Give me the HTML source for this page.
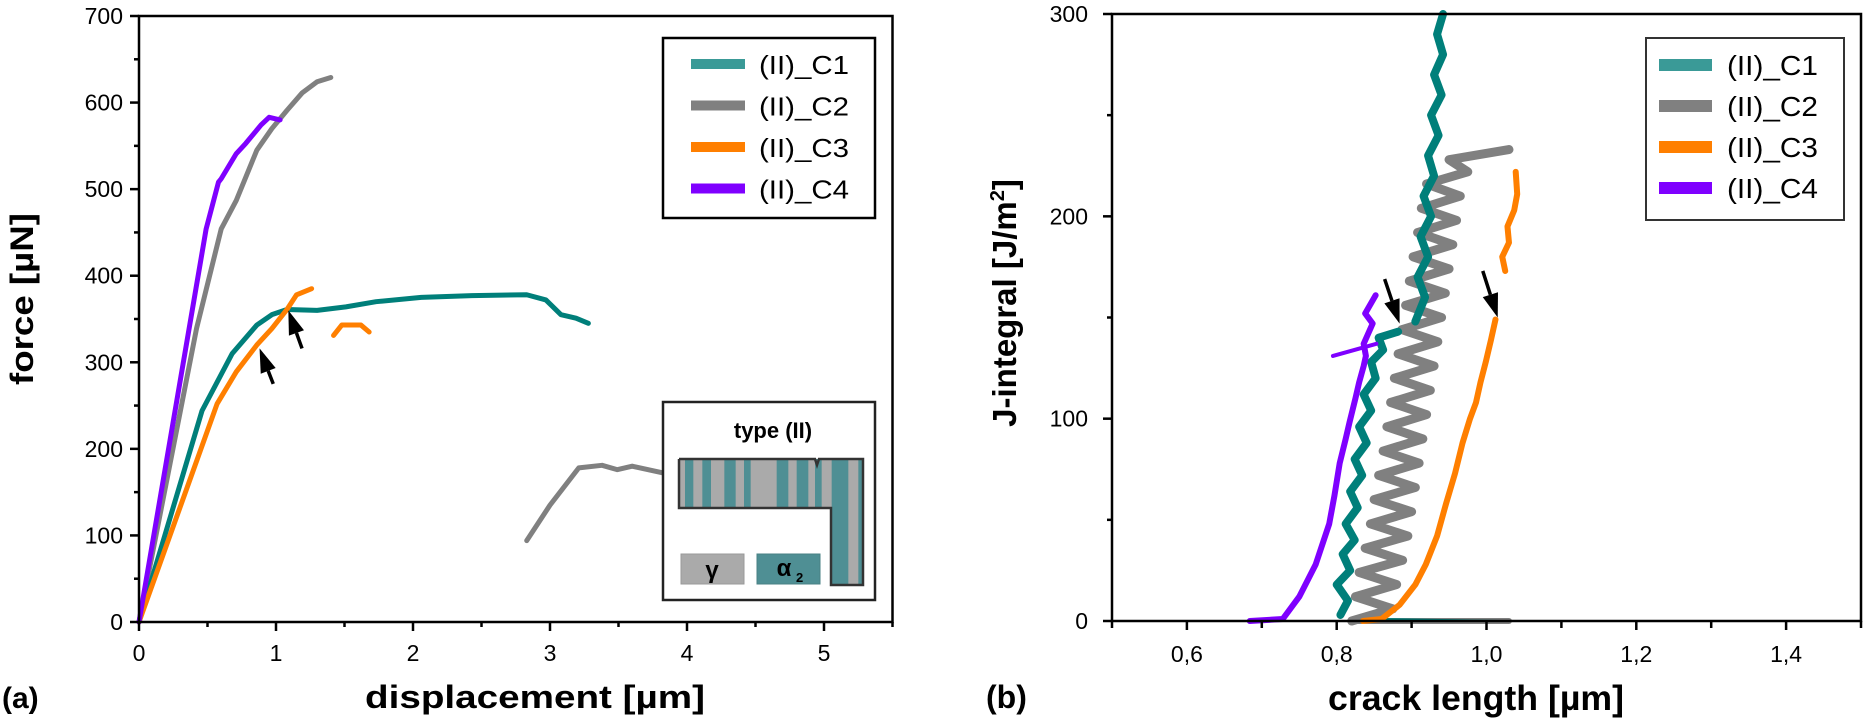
<!DOCTYPE html>
<html><head><meta charset="utf-8"><style>
html,body{margin:0;padding:0;background:#fff;}
svg{display:block;}
text{font-family:"Liberation Sans",sans-serif;}
</style></head><body>
<svg id="fig" width="1866" height="721" viewBox="0 0 1866 721"></svg>
<script>
// ---------- LEFT CHART DATA (force vs displacement) ----------
const leftXTicks = [0,1,2,3,4,5];
const leftYTicks = [0,100,200,300,400,500,600,700];
const c1ForceX = [0,0.46,0.68,0.86,0.97,1.08,1.30,1.51,1.73,2.06,2.43,2.83,2.97,3.08,3.19,3.28];
const c1ForceY = [0,244,310,343,355,361,360,364,370,375,377,378,372,355,351,345];
const c2ForceX = [0,0.42,0.60,0.71,0.86,0.97,1.08,1.19,1.30,1.40];
const c2ForceY = [0,339,454,487,545,570,591,611,624,629];
const c2bForceX = [2.83,3.0,3.21,3.38,3.49,3.60,3.83,3.95];
const c2bForceY = [94,135,178,181,176,180,172,170];
const c3ForceX = [0,0.57,0.71,0.86,0.97,1.08,1.15,1.26];
const c3ForceY = [0,252,289,320,339,361,378,385];
const c3bForceX = [1.42,1.48,1.62,1.68];
const c3bForceY = [331,343,343,335];
const c4ForceX = [0,0.49,0.58,0.60,0.71,0.78,0.89,0.95,1.03];
const c4ForceY = [0,454,508,512,541,553,574,583,580];
const leftArrowTail = [[0.98,275],[1.19,316]];
const leftArrowHead = [[0.88,316],[1.09,360]];

// ---------- RIGHT CHART DATA (J-integral vs crack length) ----------
const rightXTicks = [0.6,0.8,1.0,1.2,1.4];
const rightXLabels = ["0,6","0,8","1,0","1,2","1,4"];
const rightYTicks = [0,100,200,300];
const c1J_A = [[0.805,3],[0.815,10],[0.800,18],[0.818,25],[0.808,33],[0.824,40],[0.812,48],[0.828,56],[0.818,64],[0.834,72],[0.824,80],[0.840,88],[0.830,96],[0.846,104],[0.836,112],[0.852,120],[0.846,128],[0.862,134],[0.856,140],[0.882,143]];
const c1J_B = [[0.905,148],[0.918,160],[0.908,170],[0.922,180],[0.912,190],[0.926,200],[0.916,210],[0.930,220],[0.922,230],[0.936,240],[0.926,250],[0.940,260],[0.930,270],[0.942,280],[0.934,290],[0.942,300]];
const c1J_C = [[0.86,1],[1.02,0]];
const c2J_A = [[0.82,0],[0.875,6],[0.825,12],[0.88,18],[0.83,24],[0.888,30],[0.838,36],[0.895,42],[0.845,48],[0.90,54],[0.85,60],[0.905,66],[0.856,72],[0.91,78],[0.862,84],[0.915,90],[0.867,96],[0.92,102],[0.872,108],[0.925,114],[0.877,120],[0.93,126],[0.882,132],[0.935,138],[0.887,144],[0.94,150],[0.892,156],[0.945,162],[0.897,168],[0.95,174],[0.902,180],[0.955,186],[0.908,192],[0.96,198],[0.913,204],[0.965,210],[0.92,216],[0.975,222],[0.95,228],[1.03,233]];
const c2J_B = [[0.82,0],[1.03,0]];
const c3J_A = [[0.835,0],[0.86,1],[0.884,8],[0.905,18],[0.919,28],[0.934,42],[0.946,58],[0.958,73],[0.968,88],[0.978,100],[0.986,108],[0.992,118],[0.999,128],[1.006,139],[1.012,149]];
const c3J_B = [[1.025,173],[1.021,180],[1.030,187],[1.028,195],[1.037,203],[1.041,211],[1.039,222]];
const c4J_A = [[0.684,0],[0.728,1],[0.75,12],[0.772,28],[0.79,48],[0.797,62],[0.804,78],[0.812,90],[0.817,98],[0.825,110],[0.83,118],[0.836,126],[0.839,131],[0.836,137],[0.848,147],[0.838,152],[0.852,161]];
const c4J_B = [[0.795,131],[0.853,137]];
const rightArrowTail = [[0.864,169],[0.995,173]];
const rightArrowHead = [[0.884,147],[1.015,150]];

const legendNames = ["(II)_C1","(II)_C2","(II)_C3","(II)_C4"];
const legendColors = ["#3a9a97","#808080","#ff7f00","#7f00ff"];
const lineColors = ["#007f7a","#808080","#ff7f00","#7f00ff"];

const NS = "http://www.w3.org/2000/svg";
const svg = document.getElementById("fig");
function mk(tag, attrs, parent){
  const e = document.createElementNS(NS, tag);
  for (const k in attrs) e.setAttribute(k, attrs[k]);
  (parent||svg).appendChild(e);
  return e;
}
const LX = x => 139 + x*137;
const LY = y => 622 - y*(606/700);
const RX = x => 1112 + (x-0.5)*749;
const RY = y => 621 - y*(607/300);

function poly(xs, ys, fx, fy, color, w, name){
  const pts = xs.map((x,i)=>fx(x)+","+fy(ys[i])).join(" ");
  const p = mk("polyline",{points:pts,fill:"none",stroke:color,"stroke-width":w,"stroke-linejoin":"round","stroke-linecap":"round"});
  
  
  return p;
}
function polyPairs(pairs, fx, fy, color, w, name){
  return poly(pairs.map(p=>p[0]), pairs.map(p=>p[1]), fx, fy, color, w, name);
}
function arrow(t, h, fx, fy, name){
  const x1=fx(t[0]), y1=fy(t[1]), x2=fx(h[0]), y2=fy(h[1]);
  const g = mk("g",{});
  
  
  const dx=x2-x1, dy=y2-y1, L=Math.hypot(dx,dy), ux=dx/L, uy=dy/L;
  const bx=x2-ux*24, by=y2-uy*24;
  mk("line",{x1:x1,y1:y1,x2:bx,y2:by,stroke:"#000","stroke-width":3.5},g);
  mk("polygon",{points:`${x2},${y2} ${bx-uy*8},${by+ux*8} ${bx+uy*8},${by-ux*8}`,fill:"#000"},g);
}
function txt(s, attrs, name, parent){
  const t = mk("text", attrs, parent);
  t.textContent = s;
  
  
  return t;
}

// ===== LEFT CHART =====
poly(c2ForceX,c2ForceY,LX,LY,lineColors[1],5,"series-c2-force");
poly(c2bForceX,c2bForceY,LX,LY,lineColors[1],5,"series-c2-force-second");
poly(c1ForceX,c1ForceY,LX,LY,lineColors[0],5,"series-c1-force");
poly(c3ForceX,c3ForceY,LX,LY,lineColors[2],5,"series-c3-force");
poly(c3bForceX,c3bForceY,LX,LY,lineColors[2],5,"series-c3-force-second");
poly(c4ForceX,c4ForceY,LX,LY,lineColors[3],5,"series-c4-force");
leftArrowTail.forEach((t,i)=>arrow(t,leftArrowHead[i],LX,LY,"crack-arrow-left-"+(i+1)));

const lf = mk("rect",{x:LX(0),y:LY(700),width:LX(5.5)-LX(0),height:LY(0)-LY(700),fill:"none",stroke:"#000","stroke-width":2.5});


for(let v=0; v<=700; v+=50){
  const major = v%100===0;
  mk("line",{x1:LX(0),x2:LX(0)-(major?9:5),y1:LY(v),y2:LY(v),stroke:"#000","stroke-width":2.5});
}
leftYTicks.forEach(v=>txt(String(v),{x:123,y:LY(v)+8,"font-size":23,"text-anchor":"end"},"y-tick-label-"+v));
for(let v=0; v<=5.5; v+=0.5){
  const major = Math.abs(v-Math.round(v))<1e-6;
  mk("line",{x1:LX(v),x2:LX(v),y1:LY(0),y2:LY(0)+(major?9:5),stroke:"#000","stroke-width":2.5});
}
leftXTicks.forEach(v=>txt(String(v),{x:LX(v),y:661,"font-size":23,"text-anchor":"middle"},"x-tick-label-"+v));
txt("force [µN]",{x:0,y:0,"font-size":32,"font-weight":"bold","font-family":"DejaVu Sans, sans-serif","text-anchor":"middle",textLength:172,lengthAdjust:"spacingAndGlyphs",transform:"translate(33,299) rotate(-90)"},"y-axis-title-force");
txt("displacement [µm]",{x:535,y:708,"font-size":32,"font-weight":"bold","font-family":"DejaVu Sans, sans-serif","text-anchor":"middle",textLength:340,lengthAdjust:"spacingAndGlyphs"},"x-axis-title-displacement");
txt("(a)",{x:2,y:708,"font-size":30,"font-weight":"bold","font-family":"DejaVu Sans, sans-serif"},"panel-label-a");

const lg = mk("g",{});  
mk("rect",{x:663,y:38,width:212,height:180,fill:"#fff",stroke:"#000","stroke-width":2.5},lg);
legendNames.forEach((n,i)=>{
  const yy = 64 + i*41.5;
  const e = mk("g",{},lg);
  
  
  mk("rect",{x:691,y:yy-5,width:54,height:10,fill:legendColors[i]},e);
  txt(n,{x:759,y:yy+10,"font-size":26,"font-family":"DejaVu Sans, sans-serif",textLength:90,lengthAdjust:"spacingAndGlyphs"},"legend-label-left-c"+(i+1),e);
});

const ins = mk("g",{});  
mk("rect",{x:663,y:402,width:212,height:198,fill:"#fff",stroke:"#222","stroke-width":2.5},ins);
txt("type (II)",{x:773,y:438,"font-size":22,"font-weight":"bold","font-family":"DejaVu Sans, sans-serif","text-anchor":"middle"},"inset-title",ins);
mk("rect",{x:679,y:459,width:184,height:49,fill:"#aaaaaa"},ins);
mk("rect",{x:831,y:459,width:32,height:126,fill:"#aaaaaa"},ins);
const stripes=[[135,160],[187,213],[253,287],[312,332],[410,445],[470,505],[525,545]];
stripes.forEach(s=>mk("rect",{x:640+s[0]/3,y:459,width:(s[1]-s[0])/3,height:49,fill:"#4f8f94"},ins));
mk("rect",{x:640+575/3,y:459,width:50/3,height:126,fill:"#4f8f94"},ins);
mk("rect",{x:640+655/3,y:459,width:13/3,height:126,fill:"#4f8f94"},ins);
mk("polyline",{points:"679,459 815,459 817,465 819,459 863,459 863,585 831,585 831,508 679,508 679,459",fill:"none",stroke:"#333","stroke-width":2.5},ins);
mk("rect",{x:681,y:554,width:63,height:30,fill:"#aaaaaa",stroke:"#999","stroke-width":1},ins);
mk("rect",{x:757,y:554,width:63,height:30,fill:"#4f8f94",stroke:"#4a8085","stroke-width":1},ins);
txt("γ",{x:712,y:578,"font-size":24,"font-weight":"bold","font-family":"DejaVu Sans, sans-serif","text-anchor":"middle"},"inset-gamma-label",ins);
txt("α",{x:784,y:576,"font-size":24,"font-weight":"bold","font-family":"DejaVu Sans, sans-serif","text-anchor":"middle"},"inset-alpha2-label",ins);
txt("2",{x:796,y:582,"font-size":13,"font-weight":"bold","font-family":"DejaVu Sans, sans-serif"},"inset-alpha2-subscript",ins);

// ===== RIGHT CHART =====
polyPairs(c2J_B,RX,RY,lineColors[1],6,"series-c2-j-baseline");
polyPairs(c1J_C,RX,RY,lineColors[0],2,"series-c1-j-baseline");
polyPairs(c2J_A,RX,RY,lineColors[1],9,"series-c2-j");
polyPairs(c3J_A,RX,RY,lineColors[2],6,"series-c3-j");
polyPairs(c3J_B,RX,RY,lineColors[2],6,"series-c3-j-second");
polyPairs(c1J_A,RX,RY,lineColors[0],8,"series-c1-j");
polyPairs(c1J_B,RX,RY,lineColors[0],8,"series-c1-j-second");
polyPairs(c4J_A,RX,RY,lineColors[3],6,"series-c4-j");
polyPairs(c4J_B,RX,RY,lineColors[3],4,"series-c4-j-spur");
rightArrowTail.forEach((t,i)=>arrow(t,rightArrowHead[i],RX,RY,"crack-arrow-right-"+(i+1)));

const rf = mk("rect",{x:RX(0.5),y:RY(300),width:RX(1.5)-RX(0.5),height:RY(0)-RY(300),fill:"none",stroke:"#000","stroke-width":2.5});


for(let v=0; v<=300; v+=50){
  const major = v%100===0;
  mk("line",{x1:RX(0.5),x2:RX(0.5)-(major?9:5),y1:RY(v),y2:RY(v),stroke:"#000","stroke-width":2.5});
}
rightYTicks.forEach(v=>txt(String(v),{x:1088,y:RY(v)+8,"font-size":23,"text-anchor":"end"},"j-tick-label-"+v));
for(let k=5; k<=15; k++){
  const v=k/10;
  mk("line",{x1:RX(v),x2:RX(v),y1:RY(0),y2:RY(0)+(k%2===0?9:7),stroke:"#000","stroke-width":2.5});
}
rightXTicks.forEach((v,i)=>txt(rightXLabels[i],{x:RX(v),y:662,"font-size":23,"text-anchor":"middle"},"crack-tick-label-"+rightXLabels[i]));
const jt = txt("J-integral [J/m",{x:0,y:0,"font-size":33,"font-weight":"bold","text-anchor":"middle",transform:"translate(1016,303) rotate(-90)"},"y-axis-title-j-integral");
const sup = document.createElementNS(NS,"tspan"); sup.setAttribute("dy","-12"); sup.setAttribute("font-size","20"); sup.textContent="2"; jt.appendChild(sup);
const cl = document.createElementNS(NS,"tspan"); cl.setAttribute("dy","12"); cl.textContent="]"; jt.appendChild(cl);
txt("crack length [µm]",{x:1476,y:710,"font-size":35,"font-weight":"bold","text-anchor":"middle",textLength:296,lengthAdjust:"spacingAndGlyphs"},"x-axis-title-crack-length");
txt("(b)",{x:986,y:708,"font-size":32,"font-weight":"bold"},"panel-label-b");

const rg = mk("g",{});  
mk("rect",{x:1646,y:38,width:198,height:182,fill:"#fff",stroke:"#333","stroke-width":2},rg);
legendNames.forEach((n,i)=>{
  const yy = 65 + i*41;
  const e = mk("g",{},rg);
  
  
  mk("rect",{x:1659,y:yy-6,width:53,height:12,fill:legendColors[i]},e);
  txt(n,{x:1727,y:yy+10,"font-size":28,textLength:91,lengthAdjust:"spacingAndGlyphs"},"legend-label-right-c"+(i+1),e);
});
</script>
</body></html>
